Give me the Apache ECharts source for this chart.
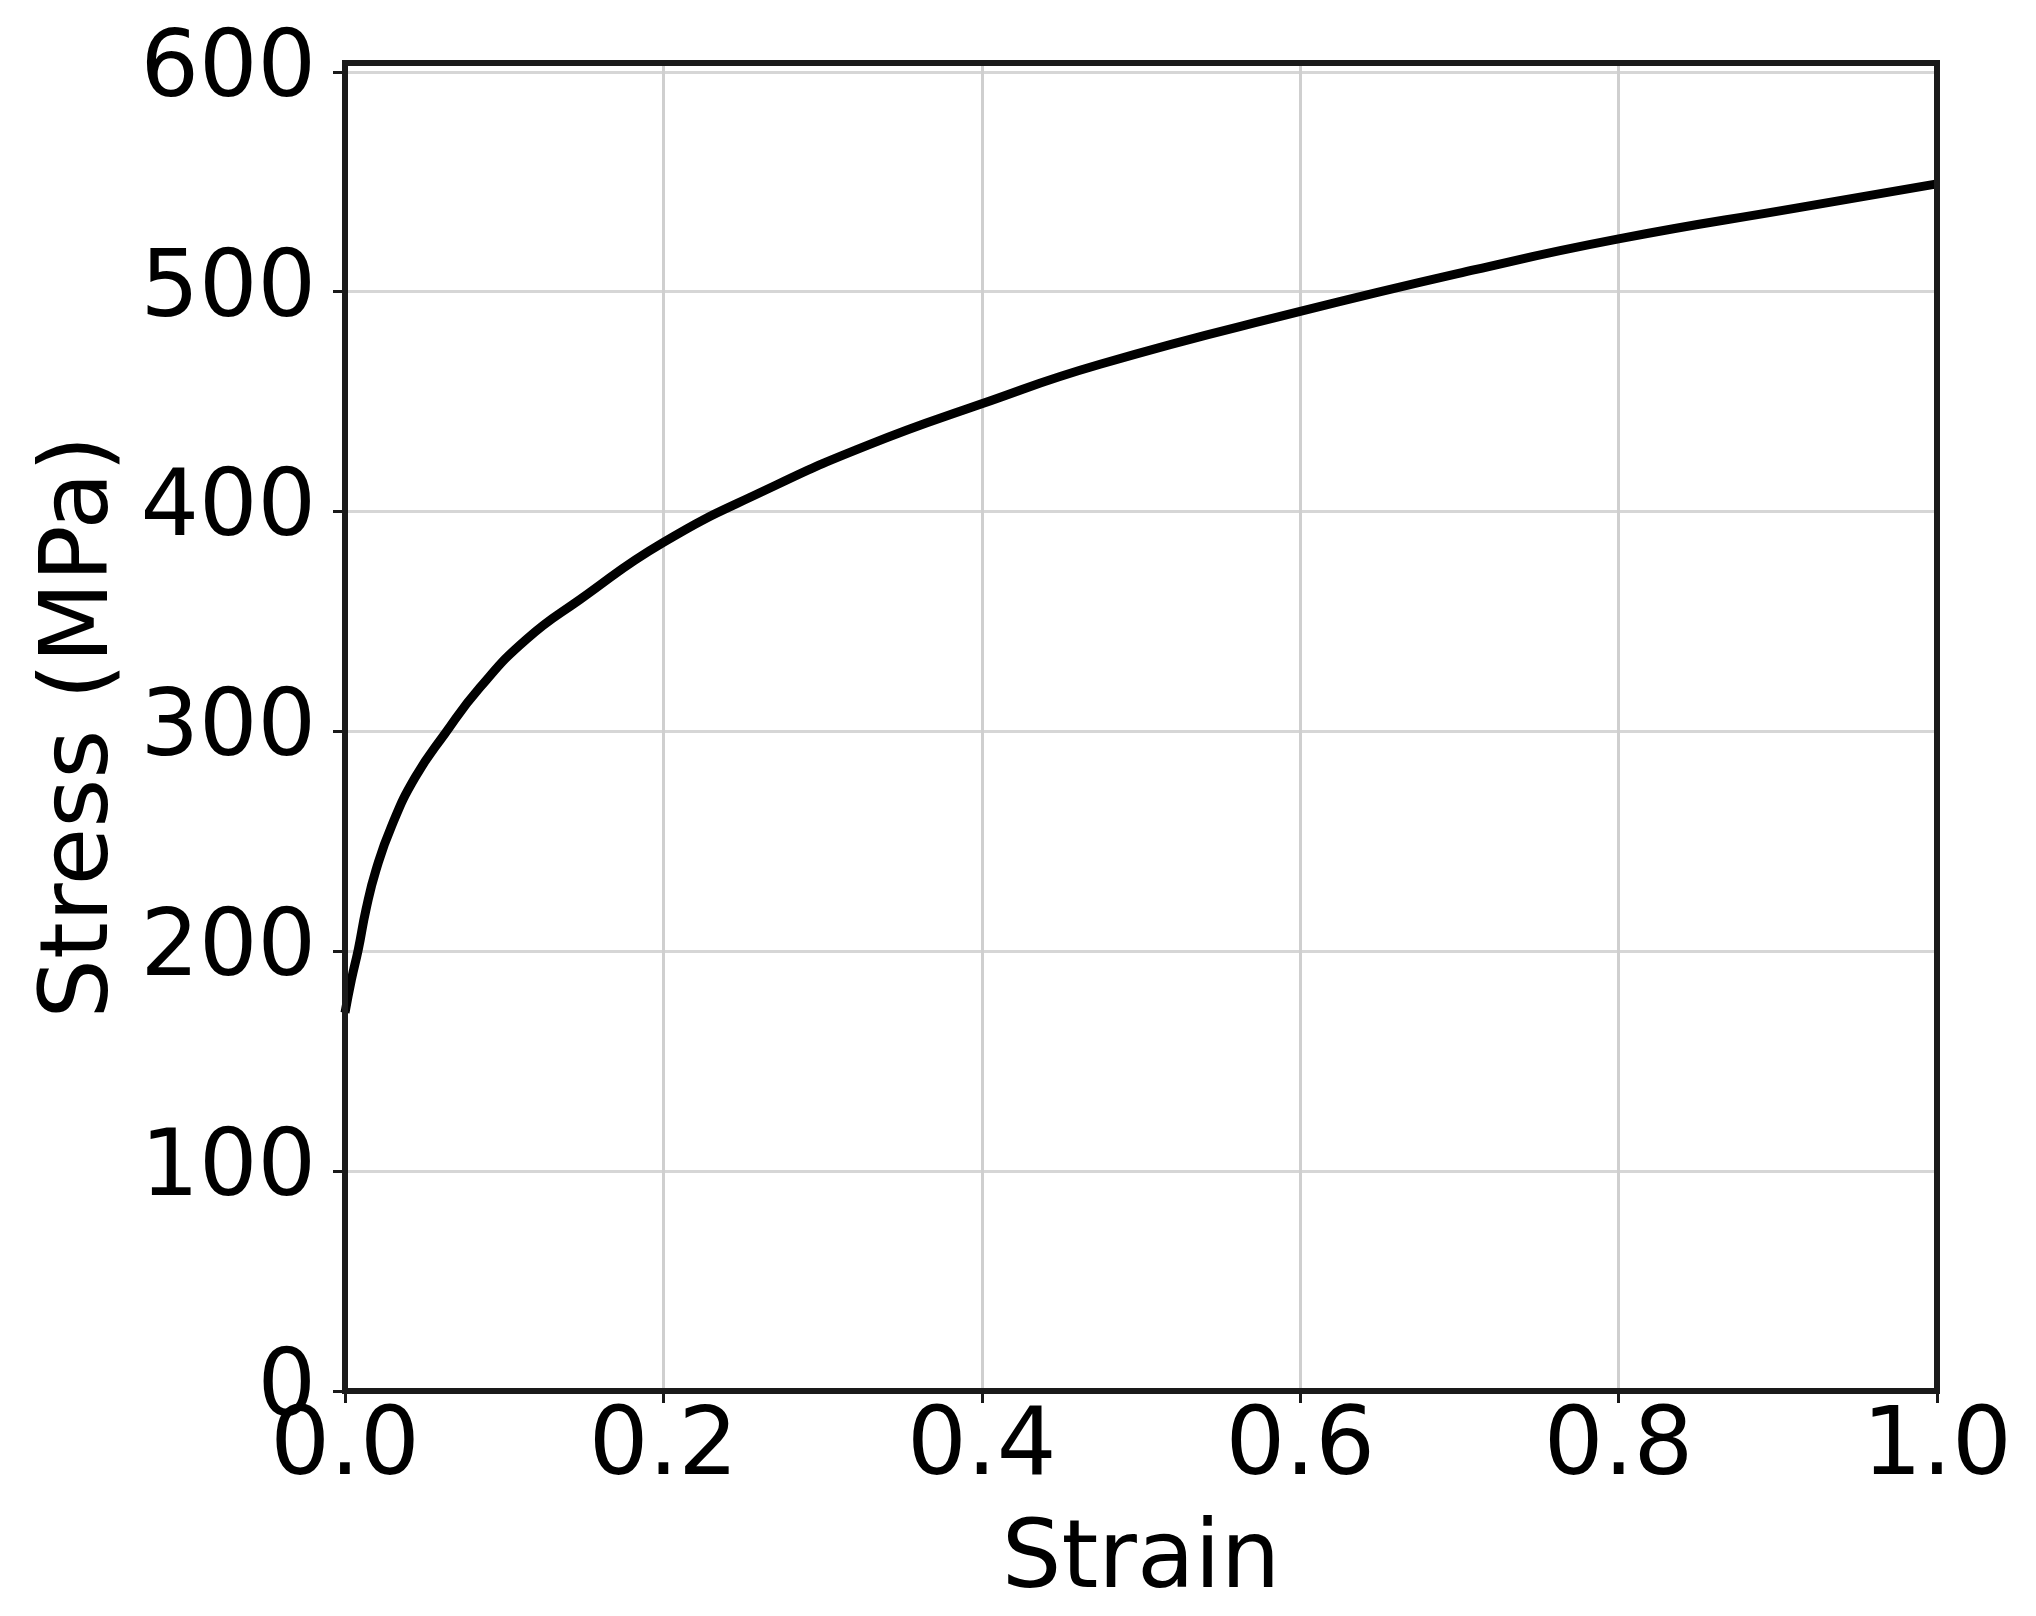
<!DOCTYPE html>
<html>
<head>
<meta charset="utf-8">
<script src="https://cdn.jsdelivr.net/npm/echarts@6/dist/echarts.min.js"></script>
<style>
html,body{margin:0;padding:0;background:#fff;}
#chart{width:2036px;height:1616px;}
</style>
</head>
<body>
<div id="chart"></div>
<script>
// Data
var strain = [0, 0.004, 0.0084, 0.0132, 0.0195, 0.0293, 0.044, 0.0628, 0.0848, 0.1141, 0.1476, 0.2, 0.2649, 0.3277, 0.4, 0.4743, 0.6, 0.7098, 0.8, 0.9114, 1.0];
var stress = [172, 187, 201, 219, 237, 257, 279, 299, 320, 342, 360, 386, 410, 430, 449, 467, 491, 510, 524, 538, 549];
var xTicks = [0, 0.2, 0.4, 0.6, 0.8, 1.0];
var yTicks = [0, 100, 200, 300, 400, 500, 600];

var pts = strain.map(function (s, i) { return [s, stress[i]]; });
var FONT = 'DejaVu Sans';
var chart = echarts.init(document.getElementById('chart'), null, {renderer: 'canvas'});
chart.setOption({
  animation: false,
  backgroundColor: '#ffffff',
  grid: {left: 345, right: 99, top: 63, bottom: 225, show: true, borderColor: '#1a1a1a', borderWidth: 6, backgroundColor: 'transparent', z: 3},
  xAxis: {
    type: 'value', min: 0, max: 1, interval: 0.2,
    name: 'Strain', nameLocation: 'middle', nameGap: 125,
    nameTextStyle: {fontFamily: FONT, fontSize: 94, color: '#000'},
    axisLine: {show: false},
    axisTick: {show: true, inside: false, length: 12, lineStyle: {color: '#1a1a1a', width: 3}, customValues: xTicks},
    axisLabel: {margin: 12, fontFamily: FONT, fontSize: 94, color: '#000', customValues: xTicks,
      formatter: function (v) { return Number(v).toFixed(1); }},
    splitLine: {show: true, lineStyle: {color: '#cfcfcf', width: 3}}
  },
  yAxis: {
    type: 'value', min: 0, max: 604, interval: 100,
    name: 'Stress (MPa)', nameLocation: 'middle', nameGap: 207, nameRotate: 90,
    nameTextStyle: {fontFamily: FONT, fontSize: 94, color: '#000'},
    axisLine: {show: false},
    axisTick: {show: true, inside: false, length: 12, lineStyle: {color: '#1a1a1a', width: 3}, customValues: yTicks},
    axisLabel: {margin: 29, fontFamily: FONT, fontSize: 92, color: '#000', customValues: yTicks,
      formatter: function (v) { return String(v); }},
    splitLine: {show: true, lineStyle: {color: '#d6d6d6', width: 3}}
  },
  series: [{
    type: 'line', data: pts, smooth: 0.5, showSymbol: false,
    lineStyle: {color: '#000', width: 9}, clip: true, z: 2
  }]
});
</script>
</body>
</html>
